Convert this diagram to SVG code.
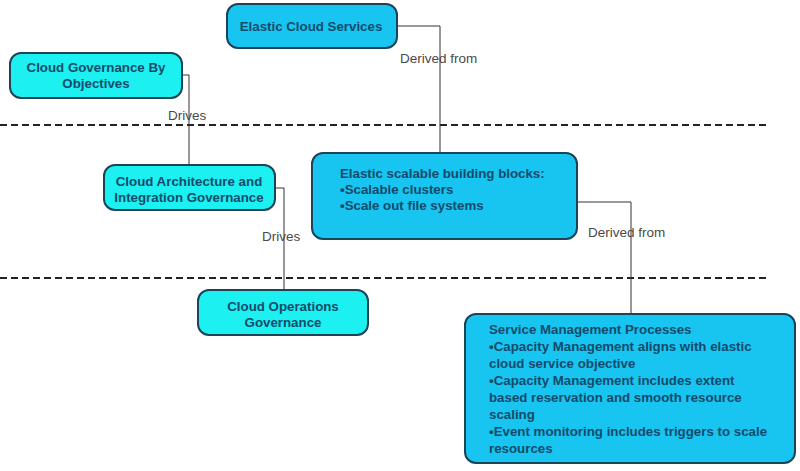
<svg xmlns="http://www.w3.org/2000/svg" width="800" height="471" viewBox="0 0 800 471">
<style>
.n{stroke:#1b4457;stroke-width:2}
.a{fill:#1cf0f0}
.b{fill:#18c4f0}
.t{font-family:"Liberation Sans",Arial,sans-serif;font-size:13.3px;font-weight:bold;fill:#124b6b}
.c{text-anchor:middle}
.l{font-family:"Liberation Sans",Arial,sans-serif;font-size:13.5px;fill:#4a4a4a}
.e{fill:none;stroke:#333;stroke-width:1}
.d{stroke:#222;stroke-width:2;stroke-dasharray:7,4}
</style>
<rect width="800" height="471" fill="#fff"/>
<g id="dividers">
<line class="d" x1="0" y1="125" x2="770" y2="125"/>
<line class="d" x1="0" y1="278" x2="770" y2="278"/>
</g>
<g id="connectors">
<polyline class="e" points="397,26 440,26 440,153"/>
<polyline class="e" points="182,75 189,75 189,165"/>
<polyline class="e" points="275,188 284,188 284,290"/>
<polyline class="e" points="577,202 631,202 631,314"/>
<text class="l" x="400" y="63">Derived from</text>
<text class="l" x="168" y="120">Drives</text>
<text class="l" x="262" y="241">Drives</text>
<text class="l" x="588" y="237">Derived from</text>
</g>
<g id="elastic-cloud-services">
<rect class="n b" x="227" y="4" width="170" height="44" rx="11"/>
<text class="t c" x="311" y="31">Elastic Cloud Services</text>
</g>
<g id="cloud-governance-by-objectives">
<rect class="n a" x="10" y="53" width="172" height="45" rx="11"/>
<text class="t c" x="96" y="72">Cloud Governance By</text>
<text class="t c" x="96" y="88">Objectives</text>
</g>
<g id="cloud-architecture">
<rect class="n a" x="104" y="165" width="171" height="45" rx="11"/>
<text class="t c" x="189" y="186">Cloud Architecture and</text>
<text class="t c" x="189" y="202">Integration Governance</text>
</g>
<g id="cloud-operations">
<rect class="n a" x="198" y="290" width="170" height="45" rx="11"/>
<text class="t c" x="283" y="311">Cloud Operations</text>
<text class="t c" x="283" y="327">Governance</text>
</g>
<g id="elastic-scalable">
<rect class="n b" x="312" y="153" width="265" height="86" rx="11"/>
<text class="t" x="340" y="178">Elastic scalable building blocks:</text>
<text class="t" x="340" y="194">•Scalable clusters</text>
<text class="t" x="340" y="210">•Scale out file systems</text>
</g>
<g id="service-management">
<rect class="n b" x="465" y="314" width="330" height="149" rx="11"/>
<text class="t" x="489" y="334">Service Management Processes</text>
<text class="t" x="489" y="351">•Capacity Management aligns with elastic</text>
<text class="t" x="489" y="368">cloud service objective</text>
<text class="t" x="489" y="385">•Capacity Management includes extent</text>
<text class="t" x="489" y="402">based reservation and smooth resource</text>
<text class="t" x="489" y="419">scaling</text>
<text class="t" x="489" y="436">•Event monitoring includes triggers to scale</text>
<text class="t" x="489" y="453">resources</text>
</g>
</svg>
